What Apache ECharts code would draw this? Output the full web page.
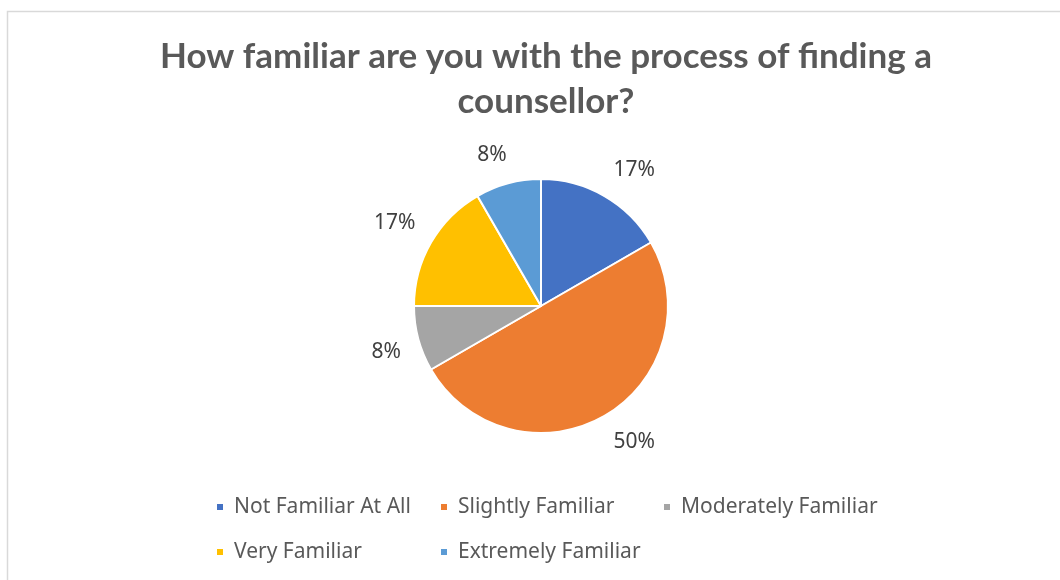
<!DOCTYPE html>
<html>
<head>
<meta charset="utf-8">
<script src="https://cdn.jsdelivr.net/npm/echarts@6/dist/echarts.min.js"></script>
<style>
  html, body { margin: 0; padding: 0; background: #fff; }
  #chart { width: 1060px; height: 580px; }
</style>
</head>
<body>
<div id="chart"></div>
<script>
// Survey responses: how familiar people are with finding a counsellor
const categories = ['Not Familiar At All', 'Slightly Familiar', 'Moderately Familiar', 'Very Familiar', 'Extremely Familiar'];
const counts = [2, 6, 1, 2, 1];
const colors = ['#4472C4', '#ED7D31', '#A5A5A5', '#FFC000', '#5B9BD5'];
const titleText = 'How familiar are you with the process of finding a\ncounsellor?';

const pieData = categories.map((name, i) => ({ name, value: counts[i] }));
const center = [541, 306];
const pieRadius = 127;
const labelGap = 18;
const textColor = '#595959';

// mid angle of each slice, measured clockwise from 12 o'clock
const total = counts.reduce((a, b) => a + b, 0);
const midAngles = [];
counts.reduce((cum, v) => { midAngles.push(2 * Math.PI * (cum + v / 2) / total); return cum + v; }, 0);

// place each label so its box sits just outside the rim, along the slice's mid direction
function placeLabel(params) {
  const a = midAngles[params.dataIndex];
  const ux = Math.sin(a), uy = -Math.cos(a);
  const r = pieRadius + labelGap;
  const w = params.labelRect.width, h = params.labelRect.height;
  const clamp = v => Math.max(-1, Math.min(1, v));
  return {
    x: center[0] + ux * r + clamp(ux * 3) * w / 2,
    y: center[1] + uy * r + clamp(uy * 3) * h / 2,
    align: 'center',
    verticalAlign: 'middle'
  };
}

function legendColumn(left, names) {
  return {
    orient: 'vertical',
    left: left,
    top: 495,
    padding: 0,
    itemGap: 21,
    itemWidth: 8,
    itemHeight: 8,
    icon: 'rect',
    data: names,
    selectedMode: false,
    textStyle: { fontFamily: 'Noto Sans', fontSize: 21, lineHeight: 24, color: textColor, padding: [0, 0, 0, 5] }
  };
}

const chart = echarts.init(document.getElementById('chart'), null, { renderer: 'canvas' });
chart.setOption({
  animation: false,
  color: colors,
  graphic: [{
    type: 'rect',
    shape: { x: 7.5, y: 11.5, width: 1100, height: 620 },
    style: { fill: 'none', stroke: '#d9d9d9', lineWidth: 1.5 },
    silent: true
  }],
  title: {
    text: titleText,
    left: center[0],
    textAlign: 'center',
    top: 29,
    textStyle: { fontFamily: 'Lato', fontWeight: 'bold', fontSize: 35, color: textColor, lineHeight: 45 }
  },
  legend: [
    legendColumn(215, [categories[0], categories[3]]),
    legendColumn(439, [categories[1], categories[4]]),
    legendColumn(662, [categories[2]])
  ],
  series: [{
    type: 'pie',
    center: center,
    radius: [0, pieRadius],
    startAngle: 90,
    clockwise: true,
    data: pieData,
    percentPrecision: 0,
    itemStyle: { borderColor: '#fff', borderWidth: 2 },
    label: {
      show: true,
      position: 'outside',
      formatter: '{d}%',
      fontFamily: 'Noto Sans',
      fontSize: 21,
      color: '#404040'
    },
    labelLine: { show: false },
    labelLayout: placeLabel,
    emphasis: { disabled: true }
  }]
});
</script>
</body>
</html>
